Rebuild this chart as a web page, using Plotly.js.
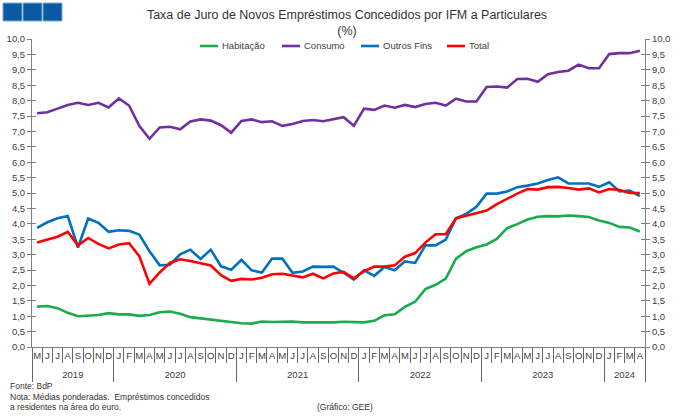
<!DOCTYPE html>
<html>
<head>
<meta charset="utf-8">
<script src="https://cdn.plot.ly/plotly-3.0.1.min.js"></script>
<style>
  html, body { margin: 0; padding: 0; background: #fff; }
  #chart { width: 680px; height: 418px; }
</style>
</head>
<body>
<div id="chart"></div>
<script>
// Categories: May 2019 .. April 2024
const monthLabels = [
  'M','J','J','A','S','O','N','D',
  'J','F','M','A','M','J','J','A','S','O','N','D',
  'J','F','M','A','M','J','J','A','S','O','N','D',
  'J','F','M','A','M','J','J','A','S','O','N','D',
  'J','F','M','A','M','J','J','A','S','O','N','D',
  'J','F','M','A'
];
const yearLabels = [
  '2019','2019','2019','2019','2019','2019','2019','2019',
  '2020','2020','2020','2020','2020','2020','2020','2020','2020','2020','2020','2020',
  '2021','2021','2021','2021','2021','2021','2021','2021','2021','2021','2021','2021',
  '2022','2022','2022','2022','2022','2022','2022','2022','2022','2022','2022','2022',
  '2023','2023','2023','2023','2023','2023','2023','2023','2023','2023','2023','2023',
  '2024','2024','2024','2024'
];

const habitacao = [
  1.31, 1.33, 1.26, 1.11, 1.00, 1.02, 1.04, 1.10, 1.06, 1.06,
  1.01, 1.04, 1.13, 1.15, 1.08, 0.97, 0.93, 0.87, 0.83, 0.80,
  0.77, 0.76, 0.83, 0.81, 0.83, 0.83, 0.80, 0.80, 0.78, 0.80,
  0.82, 0.82, 0.80, 0.85, 1.03, 1.06, 1.30, 1.47, 1.88, 2.02,
  2.22, 2.87, 3.11, 3.24, 3.33, 3.51, 3.86, 3.99, 4.14, 4.23,
  4.25, 4.24, 4.27, 4.25, 4.22, 4.11, 4.03, 3.90, 3.88, 3.75
];
const consumo = [
  7.59, 7.62, 7.74, 7.86, 7.93, 7.86, 7.93, 7.78, 8.07, 7.84,
  7.18, 6.76, 7.13, 7.15, 7.07, 7.32, 7.39, 7.35, 7.20, 6.96,
  7.34, 7.39, 7.30, 7.33, 7.18, 7.24, 7.34, 7.37, 7.33, 7.39,
  7.46, 7.18, 7.74, 7.70, 7.84, 7.77, 7.86, 7.79, 7.89, 7.93,
  7.84, 8.06, 7.97, 7.97, 8.44, 8.46, 8.42, 8.70, 8.71, 8.61,
  8.86, 8.93, 8.97, 9.17, 9.05, 9.05, 9.51, 9.54, 9.54, 9.62
];
const outrosFins = [
  3.87, 4.05, 4.18, 4.25, 3.23, 4.17, 4.03, 3.74, 3.79, 3.77,
  3.65, 3.11, 2.65, 2.67, 3.01, 3.16, 2.86, 3.16, 2.62, 2.51,
  2.83, 2.49, 2.42, 2.87, 2.87, 2.41, 2.45, 2.61, 2.60, 2.61,
  2.41, 2.19, 2.49, 2.31, 2.60, 2.49, 2.78, 2.73, 3.30, 3.30,
  3.49, 4.18, 4.32, 4.55, 4.98, 4.98, 5.05, 5.19, 5.24, 5.31,
  5.42, 5.51, 5.31, 5.31, 5.31, 5.20, 5.35, 5.05, 5.08, 4.90
];
const total = [
  3.39, 3.48, 3.58, 3.74, 3.30, 3.54, 3.35, 3.20, 3.33, 3.37,
  2.95, 2.05, 2.42, 2.73, 2.85, 2.79, 2.72, 2.65, 2.33, 2.15,
  2.21, 2.19, 2.25, 2.36, 2.38, 2.33, 2.26, 2.38, 2.23, 2.39,
  2.44, 2.23, 2.46, 2.61, 2.61, 2.65, 2.93, 3.05, 3.39, 3.66,
  3.66, 4.18, 4.26, 4.34, 4.43, 4.64, 4.82, 4.98, 5.13, 5.11,
  5.19, 5.20, 5.16, 5.11, 5.15, 5.02, 5.13, 5.10, 5.00, 5.00
];

const seriesNames = ['Habitação', 'Consumo', 'Outros Fins', 'Total'];
const seriesColors = ['#1aab4f', '#7030a0', '#0070c0', '#ff0000'];
const seriesData = [habitacao, consumo, outrosFins, total];

// x positions: category index
const xIdx = monthLabels.map((_, i) => i);
const nCat = monthLabels.length;

// year groups derived from the categories
const yearNames = [];
const yearCenters = [];
const yearBounds = [-0.5];
yearLabels.forEach((y, i) => {
  if (i === 0 || y !== yearLabels[i - 1]) {
    if (i > 0) yearBounds.push(i - 0.5);
    yearNames.push(y);
  }
});
yearBounds.push(nCat - 0.5);
yearNames.forEach(y => {
  const idx = xIdx.filter(i => yearLabels[i] === y);
  yearCenters.push((idx[0] + idx[idx.length - 1]) / 2);
});
const monthBounds = xIdx.map(i => i - 0.5).concat([nCat - 0.5]);

const axSuffix = ['', '2', '3', '4'];
const traces = seriesData.map((vals, k) => ({
  type: 'scatter',
  mode: 'lines',
  name: seriesNames[k],
  x: xIdx,
  y: vals,
  xaxis: 'x' + axSuffix[k],
  yaxis: 'y' + axSuffix[k],
  line: { color: seriesColors[k], width: 2.6 },
  showlegend: false,
  hoverinfo: 'skip'
}));

const axisGray = '#7f7f7f';
const txt = '#404040';
const font = 'Liberation Sans, Arial, sans-serif';

const yBase = {
  range: [0, 10],
  dtick: 0.5,
  tick0: 0,
  tickformat: '.1f',
  showgrid: false,
  zeroline: false,
  showline: true,
  linecolor: axisGray,
  linewidth: 1,
  ticks: 'outside',
  ticklen: 4,
  tickwidth: 1,
  tickcolor: axisGray,
  tickfont: { family: font, size: 9.5, color: txt },
  fixedrange: true
};
const xBase = {
  type: 'linear',
  range: [-0.5, nCat - 0.5],
  showgrid: false,
  zeroline: false,
  showline: false,
  tickmode: 'array',
  tickcolor: '#666666',
  tickwidth: 1,
  tickfont: { family: font, size: 9.5, color: txt },
  fixedrange: true
};

// plot-area geometry (px): x 32..645, y 39..347
const L = 32, R = 645, T = 39, B = 347;
const px2x = p => (p - L) / (R - L);
const py2y = p => (B - p) / (B - T);

const shapes = [];
[[3, 22], [23, 42], [43, 62]].forEach(([a, b]) => {
  shapes.push({
    type: 'rect', xref: 'paper', yref: 'paper',
    x0: px2x(a), x1: px2x(b), y0: py2y(21), y1: py2y(3),
    fillcolor: '#0a5aa3', line: { color: '#7fa9cf', width: 1 }, layer: 'above'
  });
});

// legend (custom, to match the short sample lines of the original)
const legendPos = [[200, 220], [282, 302], [361, 381], [447, 467]];
const annotations = [];
seriesNames.forEach((n, k) => {
  const [a, tx] = legendPos[k];
  shapes.push({
    type: 'line', xref: 'paper', yref: 'paper',
    x0: px2x(a), x1: px2x(a + 18), y0: py2y(46), y1: py2y(46),
    line: { color: seriesColors[k], width: 2.6 }
  });
  annotations.push({
    text: n, xref: 'paper', yref: 'paper', x: px2x(tx), y: py2y(46),
    xanchor: 'left', yanchor: 'middle', showarrow: false,
    font: { family: font, size: 9.5, color: txt }
  });
});

[
  { text: 'Fonte: BdP', x: px2x(8), y: py2y(386) },
  { text: 'Nota: Médias ponderadas.  Empréstimos concedidos', x: px2x(8), y: py2y(396.5) },
  { text: 'a residentes na área do euro.', x: px2x(8), y: py2y(407) },
  { text: '(Gráfico: GEE)', x: px2x(315), y: py2y(407) }
].forEach(a => annotations.push(Object.assign({
  xref: 'paper', yref: 'paper', xanchor: 'left', yanchor: 'middle',
  showarrow: false, font: { family: font, size: 8.5, color: '#333' }
}, a)));

const layout = {
  width: 680,
  height: 418,
  margin: { l: L, r: 680 - R, t: T, b: 418 - B, pad: 0 },
  paper_bgcolor: '#ffffff',
  plot_bgcolor: '#ffffff',
  separators: ',.',
  font: { family: font, size: 9.5, color: txt },
  showlegend: false,
  title: {
    text: 'Taxa de Juro de Novos Empréstimos Concedidos por IFM a Particulares<br>(%)',
    font: { family: font, size: 12.5, color: '#333' },
    x: 347 / 680,
    xanchor: 'center',
    y: 1 - 19 / 418,
    yanchor: 'top'
  },
  // month labels + axis line
  xaxis: Object.assign({}, xBase, {
    anchor: 'y', showline: true, linecolor: axisGray, linewidth: 1,
    tickvals: xIdx, ticktext: monthLabels, ticks: ''
  }),
  // month boundary ticks
  xaxis2: Object.assign({}, xBase, {
    overlaying: 'x', anchor: 'y', side: 'bottom',
    tickvals: monthBounds, ticks: 'outside', ticklen: 15, showticklabels: false
  }),
  // year boundary dividers
  xaxis3: Object.assign({}, xBase, {
    overlaying: 'x', anchor: 'y', side: 'bottom',
    tickvals: yearBounds, ticks: 'outside', ticklen: 34, showticklabels: false
  }),
  // year labels
  xaxis4: Object.assign({}, xBase, {
    overlaying: 'x', anchor: 'y', side: 'bottom',
    tickvals: yearCenters, ticktext: yearNames, ticks: '', ticklabelstandoff: 20
  }),
  yaxis: Object.assign({}, yBase, { side: 'left', anchor: 'x' }),
  yaxis2: Object.assign({}, yBase, { side: 'right', overlaying: 'y', anchor: 'x' }),
  yaxis3: Object.assign({}, yBase, { side: 'left', overlaying: 'y', anchor: 'x', ticks: 'inside', showticklabels: false }),
  yaxis4: Object.assign({}, yBase, { side: 'right', overlaying: 'y', anchor: 'x', ticks: 'inside', showticklabels: false }),
  shapes: shapes,
  annotations: annotations
};

Plotly.newPlot('chart', traces, layout, { staticPlot: true, displayModeBar: false });
</script>
</body>
</html>
